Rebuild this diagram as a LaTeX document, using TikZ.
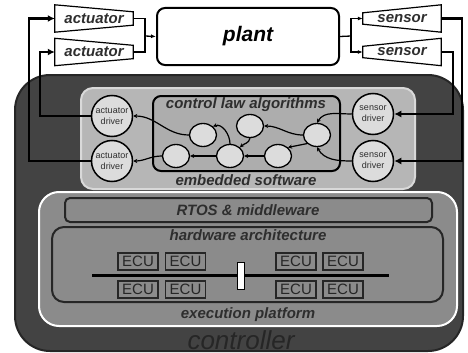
\documentclass[tikz,border=0pt]{standalone}
\usepackage{fontspec}
\setmainfont{Liberation Sans}
\usetikzlibrary{arrows.meta,shapes.geometric}

\definecolor{ctrlgray}{HTML}{434343}
\definecolor{swgray}{HTML}{B6B6B6}
\definecolor{lawgray}{HTML}{ADADAD}
\definecolor{platgray}{HTML}{8B8B8B}
\definecolor{bubgray}{HTML}{DCDCDC}
\definecolor{txtgray}{HTML}{2E2E2E}

\tikzset{
  lbl/.style={font=\fontsize{15}{15}\selectfont\bfseries\itshape, text=txtgray},
  trapbox/.style={lbl, minimum width=78pt, minimum height=27pt, inner sep=0pt},
  bub/.style={ellipse, draw, line width=1.3pt, fill=bubgray, minimum width=27pt, minimum height=23pt, inner sep=0pt},
  drv/.style={circle, draw, line width=1.5pt, fill=bubgray, minimum size=41pt, inner sep=0pt, align=center, font=\fontsize{9}{11}\selectfont, text=txtgray},
  ecu/.style={draw=black!85, line width=1.4pt, fill=platgray, minimum width=40pt, minimum height=17pt, inner sep=0pt, font=\fontsize{15}{15}\selectfont, text=black!85},
  wire/.style={line width=2.2pt, -{Latex[length=7pt,width=7pt]}},
  thinwire/.style={line width=1.3pt},
  link/.style={line width=1.2pt, -{Stealth[length=4pt,width=4pt]}},
}

\begin{document}
\begin{tikzpicture}[x=1pt,y=1pt]
        \useasboundingbox (0,0) rectangle (468,-353);
        % 控制器
        \draw[fill=ctrlgray, draw=black!85, line width=2pt, rounded corners=35pt] (15,-75) rectangle (463,-351);
        \node[font=\fontsize{26}{26}\selectfont\itshape, text=black!85, anchor=base] (ctrltext) at (241,-349) {controller};
        % 嵌入式软件
        \draw[fill=swgray, draw=white!85!black, line width=2pt, rounded corners=12pt] (81,-88) rectangle (415,-189);
        \draw[fill=lawgray, line width=2pt, rounded corners=8pt] (153,-96) rectangle (340,-171);
        \node[lbl] (lawtext) at (246,-105) {control law algorithms};
        \node[lbl] (swtext) at (246,-180) {embedded software};
        % 执行平台
        \draw[fill=platgray, draw=white, line width=2pt, rounded corners=20pt] (39,-192) rectangle (457,-326);
        \draw[fill=platgray, draw=black!85, line width=2pt, rounded corners=5pt] (65,-198) rectangle (432,-222);
        \draw[fill=platgray, draw=black!85, line width=2pt, rounded corners=12pt] (52,-227) rectangle (443,-302);
        \node[lbl] (rtostext) at (248,-210) {RTOS \& middleware};
        \node[lbl] (hwtext) at (248,-235) {hardware architecture};
        \node[lbl] (exectext) at (248,-315) {execution platform};
        % 总线
        \draw[line width=3pt] (92,-275) -- (389,-275);
        \draw[fill=white, line width=1pt] (237,-262) rectangle (244,-289);
        % 八个 ECU
        \node[ecu] (ecu1) at (138,-261.5) {ECU};
        \node[ecu] (ecu2) at (185.5,-261.5) {ECU};
        \node[ecu] (ecu3) at (296,-261.5) {ECU};
        \node[ecu] (ecu4) at (343,-261.5) {ECU};
        \node[ecu] (ecu5) at (138,-289.5) {ECU};
        \node[ecu] (ecu6) at (185.5,-289.5) {ECU};
        \node[ecu] (ecu7) at (296,-289.5) {ECU};
        \node[ecu] (ecu8) at (343,-289.5) {ECU};
        % 对象
        \node[draw, line width=2pt, rounded corners=8pt, fill=white, minimum width=182pt, minimum height=57pt,
              font=\fontsize{21}{21}\selectfont\bfseries\itshape] (plant) at (248,-36.5) {plant};
        % 执行器与传感器
        \node[trapbox] (act1) at (94,-18.5) {actuator};
        \node[trapbox] (act2) at (94,-52) {actuator};
        \node[trapbox] (sen1) at (402,-18.5) {sensor};
        \node[trapbox] (sen2) at (402,-52) {sensor};
        \draw[line width=1.2pt] (act1.north west) -- ([yshift=-7pt]act1.north east) -- ([yshift=7pt]act1.south east) -- (act1.south west) -- cycle;
        \draw[line width=1.2pt] (act2.north west) -- ([yshift=-7pt]act2.north east) -- ([yshift=7pt]act2.south east) -- (act2.south west) -- cycle;
        \draw[line width=1.2pt] ([yshift=-8pt]sen1.north west) -- (sen1.north east) -- (sen1.south east) -- ([yshift=8pt]sen1.south west) -- cycle;
        \draw[line width=1.2pt] ([yshift=-8pt]sen2.north west) -- (sen2.north east) -- (sen2.south east) -- ([yshift=8pt]sen2.south west) -- cycle;
        % 驱动
        \node[drv] (adrv1) at (112,-116) {actuator\\driver};
        \node[drv] (adrv2) at (112,-161) {actuator\\driver};
        \node[drv] (sdrv1) at (373,-114) {sensor\\driver};
        \node[drv] (sdrv2) at (373,-161) {sensor\\driver};
        % 控制律算法
        \node[bub] (alg1) at (203,-135) {};
        \node[bub] (alg2) at (250,-126) {};
        \node[bub] (alg3) at (317,-135) {};
        \node[bub] (alg4) at (176,-156) {};
        \node[bub] (alg5) at (230,-156) {};
        \node[bub] (alg6) at (278,-156) {};
        \draw[link] (sdrv1.west) to[out=180,in=60] (alg3.north);
        \draw[link] (sdrv2.west) to[out=180,in=-60] (alg3.south);
        \draw[link] (alg3.west) to[out=180,in=0] (alg2.east);
        \draw[link] (alg3.south west) -- (alg6.north east);
        \draw[link] (alg6.west) -- (alg5.east);
        \draw[link] (alg5.west) -- (alg4.east);
        \draw[link] (alg5.north) to[out=90,in=20] (alg1.north east);
        \draw[link] (alg2.south) to[out=-100,in=45] (alg5.north east);
        \draw[link] (alg1.west) to[out=180,in=0] (adrv1.east);
        \draw[link] (alg4.west) to[out=180,in=0] (adrv2.east);
        % 对象连线
        \coordinate (ajoin) at (145,-36);
        \coordinate (sjoin) at (351,-36);
        \draw[thinwire] (act1.east) -| (ajoin) |- (act2.east);
        \draw[thinwire, -{Latex[length=5pt,width=4pt]}] (ajoin) -- (plant.west);
        \draw[thinwire] (plant.east) -- (sjoin);
        \draw[thinwire, -{Latex[length=5pt,width=4pt]}] (sjoin) |- (sen1.west);
        \draw[thinwire, -{Latex[length=5pt,width=4pt]}] (sjoin) |- (sen2.west);
        % 反馈线
        \coordinate (lout) at (29,0);
        \coordinate (lin) at (40,0);
        \coordinate (rin) at (453,0);
        \coordinate (rout) at (462,0);
        \draw[wire] (adrv2.west) -| (lout |- act1.west) -- (act1.west);
        \draw[wire] (adrv1.west) -| (lin |- act2.west) -- (act2.west);
        \draw[wire] (sen1.east) -| (rout |- sdrv2.east) -- (sdrv2.east);
        \draw[wire] (sen2.east) -| (rin |- sdrv1.east) -- (sdrv1.east);
\end{tikzpicture}
\end{document}
